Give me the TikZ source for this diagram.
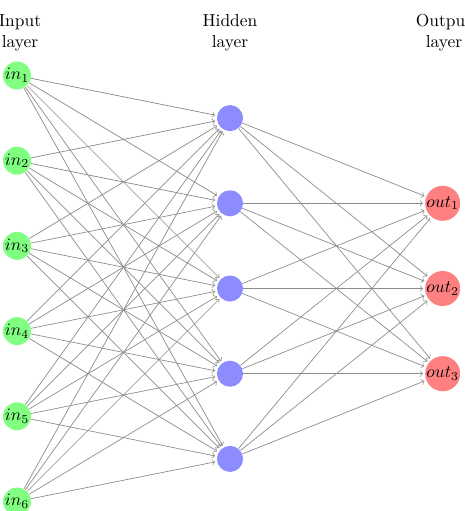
\documentclass[tikz,border=0pt]{standalone}
\usetikzlibrary{arrows}
\begin{document}
\begin{tikzpicture}[x=0.5747pt,y=-0.5747pt,
  neuron/.style={circle,inner sep=0pt,minimum size=15pt},
  inneuron/.style={neuron,fill=green!50},
  hidneuron/.style={neuron,fill=blue!45},
  outneuron/.style={neuron,fill=red!50},
  edge/.style={->,>=to,draw=black!45,line width=0.4pt,shorten >=1pt},
  annot/.style={align=center,anchor=base}]
\useasboundingbox (0,0) rectangle (465,511);
\foreach \i in {1,...,6}
  \node[inneuron] (I-\i) at (17,{75.5+85.2*(\i-1)}) {$in_{\i}$};
\foreach \i in {1,...,5}
  \node[hidneuron] (H-\i) at (230,{118.1+85.2*(\i-1)}) {};
\foreach \i in {1,...,3}
  \node[outneuron] (O-\i) at (442.7,{203.3+85.2*(\i-1)}) {$out_{\i}$};
\foreach \i in {1,...,6}
  \foreach \j in {1,...,5}
    \draw[edge] (I-\i) -- (H-\j);
\foreach \i in {1,...,5}
  \foreach \j in {1,...,3}
    \draw[edge] (H-\i) -- (O-\j);
\node[annot] (il) at (20,47) {Input\\layer};
\node[annot] (hl) at (230,47) {Hidden\\layer};
\node[annot] (ol) at (444,47) {Output\\layer};
\end{tikzpicture}
\end{document}
